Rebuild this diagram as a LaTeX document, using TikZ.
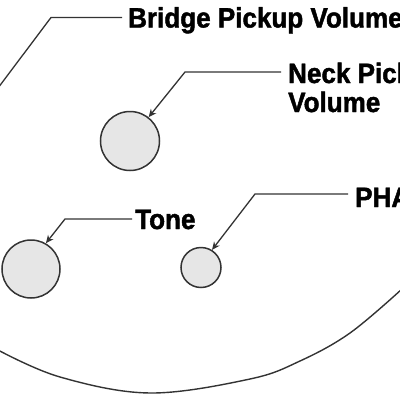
\documentclass[tikz,border=0pt]{standalone}
\usepackage{fontspec}
\setmainfont{Liberation Sans}[FakeStretch=0.93,FakeBold=1.6]
\usetikzlibrary{arrows.meta}
\definecolor{knobfill}{HTML}{E6E6E6}
\definecolor{inkline}{HTML}{333333}
\tikzset{
  knob/.style={circle, draw=inkline, line width=1.5pt, fill=knobfill, inner sep=0pt},
  lbl/.style={anchor=base west, inner sep=0pt, font=\fontsize{28}{29}\selectfont\bfseries, text=black},
  leader/.style={draw=inkline, line width=1.3pt},
  pointer/.style={leader, -{Stealth[length=8pt,width=7pt]}},
  body/.style={draw=inkline, line width=1.4pt}
}
\begin{document}
\begin{tikzpicture}[x=1pt,y=-1pt]
\useasboundingbox (0,0) rectangle (400,400);
\clip (0,0) rectangle (400,400);
% knobs
\node[knob, minimum size=59pt] (neck) at (130,141) {};
\node[knob, minimum size=58pt] (tone) at (31,269) {};
\node[knob, minimum size=40pt] (phase) at (201,267.5) {};
% labels
\node[lbl] (bridgelbl) at (128,27.5) {Bridge Pickup Volume};
\node[lbl] (necklbl) at (288,83) {Neck Pick};
\node[lbl] (necklbl2) at (288,112) {Volume};
\node[lbl] (tonelbl) at (135,229) {Tone};
\node[lbl] (phaselbl) at (355,207) {PHA};
% leader corners
\coordinate (bstart) at (-2,88);
\coordinate (bcorner) at (51,17.5);
\coordinate (bend) at (122,17.5);
\coordinate (ncorner) at (185,72);
\coordinate (nend) at (281,72);
\coordinate (tcorner) at (65,219);
\coordinate (tend) at (132,219);
\coordinate (pcorner) at (255,194);
\coordinate (pend) at (348,194);
% leaders
\draw[leader] (bstart) -- (bcorner) -- (bend);
\draw[pointer] (nend) -- (ncorner) -- (neck.52);
\draw[pointer] (tend) -- (tcorner) -- (tone.60);
\draw[pointer] (pend) -- (pcorner) -- (phase.58);
% body outline
\draw[body] plot[smooth, tension=0.6] coordinates {(-2,350) (60,377) (150,393) (250,379) (300,361) (350,333) (402,289)};
\end{tikzpicture}
\end{document}
